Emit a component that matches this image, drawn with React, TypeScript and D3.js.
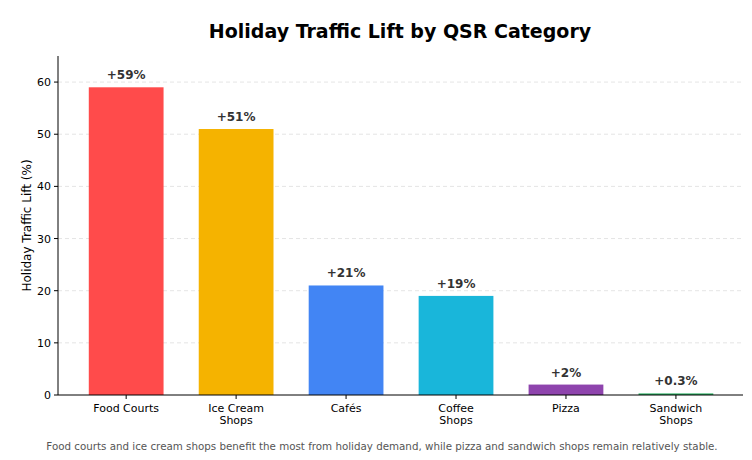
import * as d3 from "d3";

const categories = ["Food Courts", "Ice Cream\nShops", "Cafés", "Coffee\nShops", "Pizza", "Sandwich\nShops"];
const values = [59, 51, 21, 19, 2, 0.3];
const labels = ["+59%", "+51%", "+21%", "+19%", "+2%", "+0.3%"];
const colors = ["#FF4B4B", "#F5B300", "#4285F4", "#19B6DA", "#8E44AD", "#27AE60"];
const yTicks = [0, 10, 20, 30, 40, 50, 60];

const W = 752, H = 460;
const L = 58, R = 743, T = 56, B = 395;

export default function App() {
  const x = d3.scaleLinear().domain([-0.62, 5.61]).range([L, R]);
  const y = d3.scaleLinear().domain([0, 65]).range([B, T]);
  const bw = x(0.68) - x(0);
  const font = "DejaVu Sans, sans-serif";
  return (
    <svg width={W} height={H} style={{ position: "absolute", left: 0, top: 0 }} fontFamily={font}>
      <rect width={W} height={H} fill="#fff" />
      <text x={400} y={38} textAnchor="middle" fontSize={19} fontWeight="bold">Holiday Traffic Lift by QSR Category</text>
      {yTicks.map((t) => (
        <g key={t}>
          {t > 0 && <line x1={L} x2={R} y1={y(t)} y2={y(t)} stroke="#ddd" strokeDasharray="4,3" strokeWidth={0.8} />}
          <line x1={L - 4} x2={L} y1={y(t)} y2={y(t)} stroke="#000" />
          <text x={L - 7} y={y(t) + 4} textAnchor="end" fontSize={11}>{t}</text>
        </g>
      ))}
      {values.map((v, i) => (
        <g key={i}>
          <rect x={x(i) - bw / 2} y={y(v)} width={bw} height={y(0) - y(v)} fill={colors[i]} />
          <text x={x(i)} y={y(v) - 8} textAnchor="middle" fontSize={12} fontWeight="bold" fill="#333">{labels[i]}</text>
          <line x1={x(i)} x2={x(i)} y1={B} y2={B + 4} stroke="#000" />
          {categories[i].split("\n").map((s, j) => (
            <text key={j} x={x(i)} y={B + 17 + j * 12} textAnchor="middle" fontSize={11}>{s}</text>
          ))}
        </g>
      ))}
      <line x1={L} x2={L} y1={T} y2={B} stroke="#000" />
      <line x1={L} x2={R} y1={B} y2={B} stroke="#000" />
      <text transform={`translate(31,${(T + B) / 2}) rotate(-90)`} textAnchor="middle" fontSize={12}>Holiday Traffic Lift (%)</text>
      <text x={382} y={450} textAnchor="middle" fontSize={10.3} fill="#555">Food courts and ice cream shops benefit the most from holiday demand, while pizza and sandwich shops remain relatively stable.</text>
    </svg>
  );
}
